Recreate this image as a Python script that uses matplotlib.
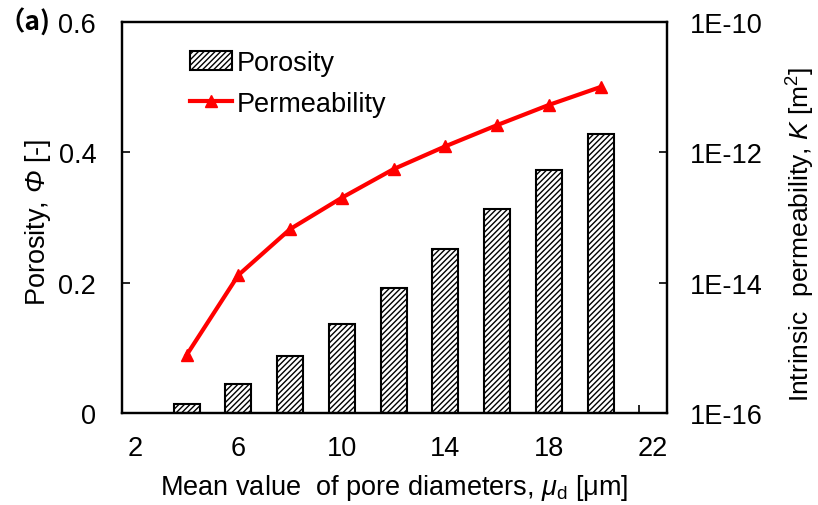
import numpy as np
import matplotlib
matplotlib.use("Agg")
import matplotlib.pyplot as plt
from matplotlib.ticker import FixedLocator, FuncFormatter, NullLocator

plt.rcParams['font.family'] = ['Liberation Sans', 'DejaVu Sans']
plt.rcParams['mathtext.fontset'] = 'custom'
plt.rcParams['mathtext.rm'] = 'Liberation Sans'
plt.rcParams['mathtext.it'] = 'Liberation Sans:italic'
plt.rcParams['mathtext.sf'] = 'Liberation Sans:italic'  #used for the italic Phi
plt.rcParams['hatch.linewidth'] = 1.0

#data
diameters = [4, 6, 8, 10, 12, 14, 16, 18, 20]
porosity = [0.014, 0.044, 0.088, 0.136, 0.192, 0.251, 0.313, 0.373, 0.428]
permeability = [7.7e-16, 1.3e-14, 6.6e-14, 2.0e-13, 5.5e-13, 1.23e-12, 2.6e-12, 5.3e-12, 1.0e-11]
x_ticks = [2, 6, 10, 14, 18, 22]
phi_ticks = [0, 0.2, 0.4, 0.6]
phi_labels = ["0", "0.2", "0.4", "0.6"]
k_ticks = [1e-16, 1e-14, 1e-12, 1e-10]
k_labels = ["1E-16", "1E-14", "1E-12", "1E-10"]

fs = 19.5

fig = plt.figure(figsize=(8.18, 5.06), dpi=100)
ax = fig.add_axes([0.149, 0.182, 0.666, 0.773])

bars = ax.bar(diameters, porosity, width=1.0, color="white", edgecolor="black",
              linewidth=1.5, hatch="//////", label="Porosity")
ax.set_xlim(1.5, 22.55)
ax.set_ylim(0, 0.6)
ax.set_xticks(x_ticks)
ax.set_xticklabels([str(t) for t in x_ticks])
ax.xaxis.set_minor_locator(FixedLocator([21.5]))
ax.tick_params(axis='x', which='major', length=0, pad=16, labelsize=fs)
ax.tick_params(axis='x', which='minor', direction='in', length=6, width=1.2)
ax.set_yticks(phi_ticks)
ax.set_yticklabels(phi_labels)
ax.tick_params(axis='y', direction='in', length=6, width=1.2, pad=18.5, labelsize=fs)
for s in ax.spines.values():
    s.set_linewidth(1.6)

ax2 = ax.twinx()
line, = ax2.plot(diameters, permeability, color="red", linewidth=3, marker="^",
                 markersize=9, label="Permeability")
ax2.set_yscale("log")
ax2.set_ylim(1e-16, 1e-10)
ax2.yaxis.set_major_locator(FixedLocator(k_ticks))
ax2.yaxis.set_major_formatter(FuncFormatter(lambda v, p: k_labels[k_ticks.index(v)] if v in k_ticks else ""))
ax2.yaxis.set_minor_locator(NullLocator())
ax2.tick_params(axis='y', direction='in', length=6, width=1.2, pad=17, labelsize=fs)
for s in ax2.spines.values():
    s.set_linewidth(1.6)

ax.set_xlabel("Mean value  of pore diameters, $\\mu_\\mathrm{d}$ [μm]", fontsize=fs)
ax.xaxis.set_label_coords(0.5, -0.152)
ax.set_ylabel("Porosity, $\\mathsf{Φ}$ [-]", fontsize=fs)
ax.yaxis.set_label_coords(-0.127, 0.49)
ax2.set_ylabel("Intrinsic  permeability, $K$ [m$^2$]", fontsize=19)
ax2.yaxis.set_label_coords(1.216, 0.46)

ax2.legend([bars, line], ["Porosity", "Permeability"], loc="upper left",
           bbox_to_anchor=(0.08, 0.99), frameon=False, fontsize=fs,
           handlelength=1.55, handletextpad=0.2, labelspacing=0.55)

fig.text(-0.002, 1 - 22 / 506, "（a)", fontsize=19, fontweight="bold",
         family=['Noto Sans CJK SC', 'DejaVu Sans'], va="center", ha="left")

fig.savefig("out.png", dpi=100)
